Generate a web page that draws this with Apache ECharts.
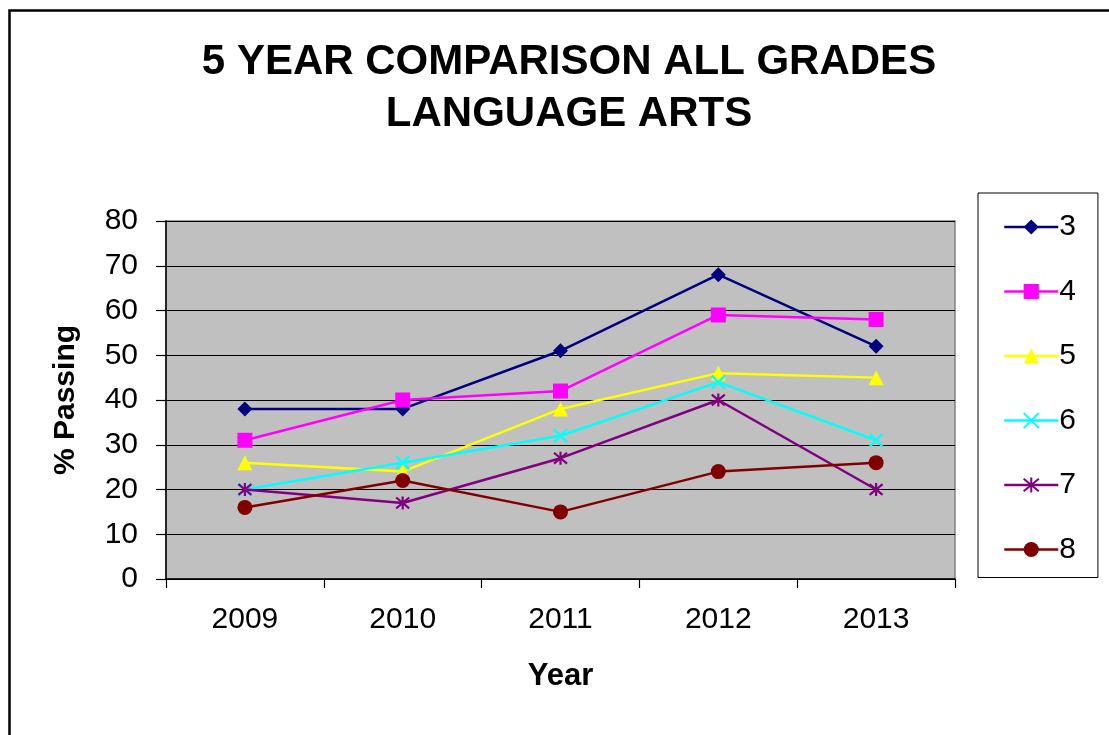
<!DOCTYPE html>
<html>
<head>
<meta charset="utf-8">
<script src="https://cdn.jsdelivr.net/npm/echarts@6/dist/echarts.min.js"></script>
<style>
  html, body { margin: 0; padding: 0; background: #ffffff; }
  #chart { width: 1109px; height: 735px; }
</style>
</head>
<body>
<div id="chart"></div>
<script>
// Percent of students passing Language Arts, by grade and year
const years = ['2009', '2010', '2011', '2012', '2013'];
const grades = ['3', '4', '5', '6', '7', '8'];
const grade3 = [38, 38, 51, 68, 52];
const grade4 = [31, 40, 42, 59, 58];
const grade5 = [26, 24, 38, 46, 45];
const grade6 = [20, 26, 32, 44, 31];
const grade7 = [20, 17, 27, 40, 20];
const grade8 = [16, 22, 15, 24, 26];
const titleLines = ['5 YEAR COMPARISON ALL GRADES', 'LANGUAGE ARTS'];

const FONT = '"Liberation Sans", Arial, Helvetica, sans-serif';

const seriesStyles = [
  { data: grade3, color: '#000080', symbol: 'diamond', size: 15 },
  { data: grade4, color: '#FF00FF', symbol: 'rect', size: 15 },
  { data: grade5, color: '#FFFF00', symbol: 'triangle', size: 15 },
  { data: grade6, color: '#00FFFF', symbol: 'path://M0,0L10,10M10,0L0,10', size: 13, stroke: true },
  { data: grade7, color: '#800080', symbol: 'path://M0,0L10,10M10,0L0,10M5,-1L5,11', size: 13, stroke: true },
  { data: grade8, color: '#800000', symbol: 'circle', size: 15 }
];

const series = seriesStyles.map((s, i) => ({
  name: grades[i],
  type: 'line',
  data: s.data,
  symbol: s.symbol,
  symbolSize: s.size,
  showAllSymbol: true,
  lineStyle: { color: s.color, width: 2.5 },
  itemStyle: s.stroke
    ? { color: s.color, borderColor: s.color, borderWidth: 2.2 }
    : { color: s.color, borderWidth: 0 },
  emphasis: { disabled: true },
  animation: false
}));

const chart = echarts.init(document.getElementById('chart'), null, { renderer: 'canvas' });

chart.setOption({
  backgroundColor: '#ffffff',
  animation: false,
  textStyle: { fontFamily: FONT },
  graphic: [
    {
      type: 'rect',
      left: 7, top: 8,
      shape: { width: 1120, height: 760 },
      style: { fill: 'none', stroke: '#000000', lineWidth: 2.5 },
      silent: true
    },
    {
      type: 'text',
      x: 569, y: 62,
      style: {
        text: titleLines[0],
        font: 'bold 42px ' + FONT,
        fill: '#000000',
        textAlign: 'center',
        textVerticalAlign: 'middle'
      }
    },
    {
      type: 'text',
      x: 569, y: 114,
      style: {
        text: titleLines[1],
        font: 'bold 42px ' + FONT,
        fill: '#000000',
        textAlign: 'center',
        textVerticalAlign: 'middle'
      }
    }
  ],
  grid: {
    left: 166, right: 154, top: 221, bottom: 156,
    show: true,
    backgroundColor: '#C0C0C0',
    borderColor: '#808080',
    borderWidth: 1.5,
    containLabel: false
  },
  legend: {
    orient: 'vertical',
    left: 978, top: 193,
    padding: [19, 22, 13, 25],
    itemGap: 34.5,
    itemWidth: 54,
    itemHeight: 19,
    borderColor: '#000000',
    borderWidth: 1,
    backgroundColor: '#ffffff',
    selectedMode: false,
    lineStyle: { width: 2.5 },
    textStyle: { fontSize: 30, color: '#000000', fontFamily: FONT, padding: [0, 0, 0, -4] },
    data: grades
  },
  xAxis: {
    type: 'category',
    data: years,
    boundaryGap: true,
    name: 'Year',
    nameLocation: 'middle',
    nameGap: 82,
    nameTextStyle: { fontSize: 31, fontWeight: 'bold', color: '#000000', fontFamily: FONT },
    axisLine: { show: true, lineStyle: { color: '#000000', width: 1.5 } },
    axisTick: { show: true, length: 9, inside: false, lineStyle: { color: '#000000', width: 1.2 } },
    axisLabel: { fontSize: 30, color: '#000000', margin: 26, fontFamily: FONT },
    splitLine: { show: false }
  },
  yAxis: {
    type: 'value',
    min: 0, max: 80, interval: 10,
    name: '% Passing',
    nameLocation: 'middle',
    nameGap: 85,
    nameTextStyle: { fontSize: 30, fontWeight: 'bold', color: '#000000', fontFamily: FONT },
    axisLine: { show: true, lineStyle: { color: '#000000', width: 1.5 } },
    axisTick: { show: true, length: 10, inside: false, lineStyle: { color: '#000000', width: 1.2 } },
    axisLabel: { fontSize: 30, color: '#000000', margin: 28, fontFamily: FONT },
    splitLine: { show: true, lineStyle: { color: '#000000', width: 1.2 } }
  },
  series: series
});
</script>
</body>
</html>
